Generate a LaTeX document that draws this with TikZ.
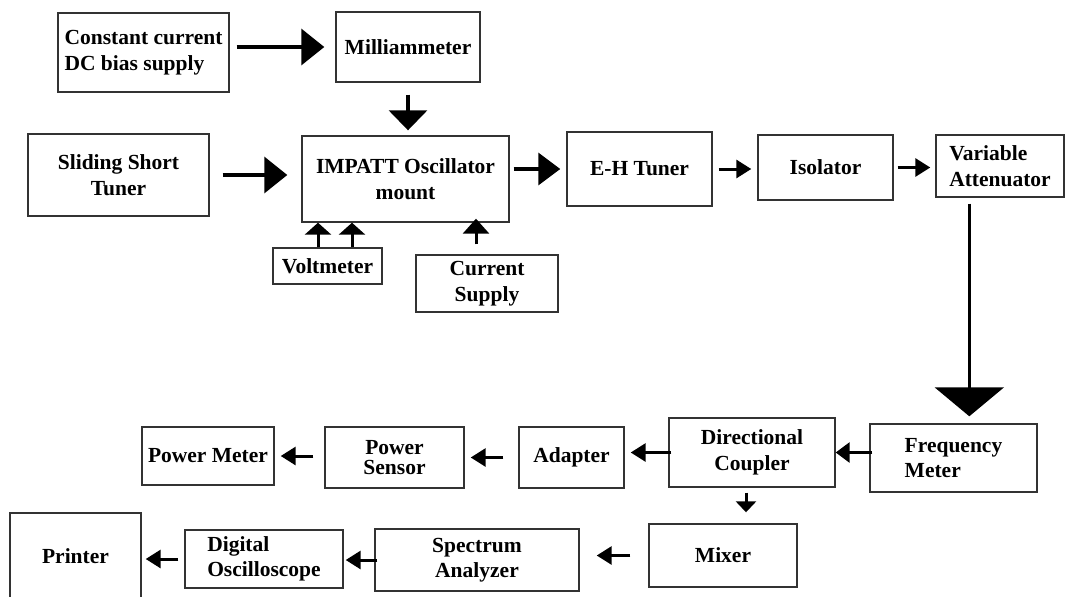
\documentclass[tikz,border=0pt]{standalone}
\usepackage{fontspec}
\setmainfont{Liberation Serif}
\usetikzlibrary{arrows.meta}

\begin{document}
\begin{tikzpicture}[x=1pt,y=-1pt,
    box/.style={draw=black!80, line width=1.4pt, inner sep=2pt, align=center,
        font=\fontsize{21.5}{25.5}\selectfont\bfseries},
    bigarr/.style={line width=3.5pt, -{Triangle[length=23pt,width=36pt]}},
    arr/.style={line width=3pt, -{Triangle[length=15pt,width=18pt]}},
    uparr/.style={line width=3pt, -{Triangle[length=12pt,width=26pt]}}]
    \useasboundingbox (0,0) rectangle (1066,597);
    % upper part
    \node[box, minimum width=171pt, minimum height=79pt, align=left] (const) at (143.5,52.5) {Constant current\\DC bias supply};
    \node[box, minimum width=144pt, minimum height=70pt] (milli) at (408,47) {Milliammeter};
    \node[box, minimum width=181pt, minimum height=82pt] (slide) at (118.5,175) {Sliding Short\\Tuner};
    \node[box, minimum width=207pt, minimum height=86pt] (impatt) at (405.5,179) {IMPATT Oscillator\\mount};
    \node[box, minimum width=109pt, minimum height=36pt] (volt) at (327.5,266) {Voltmeter};
    \node[box, minimum width=142pt, minimum height=57pt] (cursup) at (487,283.5) {Current\\Supply};
    \node[box, minimum width=145pt, minimum height=74pt] (eh) at (639.5,169) {E-H Tuner};
    \node[box, minimum width=135pt, minimum height=65pt] (iso) at (825.5,167.5) {Isolator};
    \node[box, minimum width=128pt, minimum height=62pt, align=left] (va) at (1000,166) {Variable\\Attenuator};
    % lower part
    \node[box, minimum width=167pt, minimum height=68pt, align=left] (fm) at (953.5,458) {Frequency\\Meter};
    \node[box, minimum width=166pt, minimum height=69pt] (dc) at (752,452.5) {Directional\\Coupler};
    \node[box, minimum width=105pt, minimum height=61pt] (adapter) at (571.5,457.5) {Adapter};
    \node[box, minimum width=139pt, minimum height=61pt] (ps) at (394.5,457.5) {Power\\[-5pt]Sensor};
    \node[box, minimum width=132pt, minimum height=58pt] (pm) at (208,456) {Power Meter};
    \node[box, minimum width=148pt, minimum height=63pt] (mixer) at (723,555.5) {Mixer};
    \node[box, minimum width=204pt, minimum height=62pt] (sa) at (477,560) {Spectrum\\Analyzer};
    \node[box, minimum width=158pt, minimum height=58pt, align=left] (do) at (264,559) {Digital\\Oscilloscope};
    \node[box, minimum width=131pt, minimum height=86pt] (printer) at (75.5,556) {Printer};

    \draw[bigarr, shorten <=7pt, shorten >=11pt] (const.east |- milli.west) -- (milli.west);
    \draw[bigarr, shorten <=12pt, shorten >=5pt, -{Triangle[length=20pt,width=38pt]}] (milli.south) -- (milli.south |- impatt.north);
    \draw[bigarr, shorten <=13pt, shorten >=14pt] (slide.east) -- (slide.east -| impatt.west);
    \draw[bigarr, shorten <=4pt, shorten >=6pt, -{Triangle[length=22pt,width=32pt]}] (impatt.east |- eh.west) -- (eh.west);
    \draw[arr, shorten <=6pt, shorten >=6pt] (eh.east) -- (eh.east -| iso.west);
    \draw[arr, shorten <=4pt, shorten >=5pt] (iso.east) -- (iso.east -| va.west);
    \draw[line width=3pt, -{Triangle[length=29pt,width=69pt]}, shorten <=6pt, shorten >=7pt]
        ([xshift=34pt]va.south west) -- ([xshift=34pt]va.south west |- fm.north);
    \draw[uparr] ([xshift=-9.5pt]volt.north) -- ([xshift=-9.5pt]volt.north |- impatt.south);
    \draw[uparr] ([xshift=24.5pt]volt.north) -- ([xshift=24.5pt]volt.north |- impatt.south);
    \draw[uparr, shorten <=10pt, shorten >=-4pt, -{Triangle[length=15pt,width=26pt]}] ([xshift=-11pt]cursup.north) -- ([xshift=-11pt]cursup.north |- impatt.south);

    \draw[arr, shorten <=-3pt, -{Triangle[length=14pt,width=20pt]}] (fm.west |- dc.east) -- (dc.east);
    \draw[arr, shorten <=-3pt, shorten >=6pt] (dc.west) -- (dc.west -| adapter.east);
    \draw[arr, shorten <=5pt, shorten >=11pt, -{Triangle[length=11pt,width=20pt]}] ([xshift=-6pt]dc.south) -- ([xshift=-6pt]dc.south |- mixer.north);
    \draw[arr, shorten <=15pt, shorten >=6pt] (adapter.west) -- (adapter.west -| ps.east);
    \draw[arr, shorten <=11pt, shorten >=6pt] (ps.west |- pm.east) -- (pm.east);
    \draw[arr, shorten <=18pt, shorten >=17pt] (mixer.west) -- (mixer.west -| sa.east);
    \draw[arr, shorten <=-3pt, shorten >=2pt] (sa.west) -- (sa.west -| do.east);
    \draw[arr, shorten <=6pt, shorten >=4pt] (do.west) -- (do.west -| printer.east);
\end{tikzpicture}
\end{document}
